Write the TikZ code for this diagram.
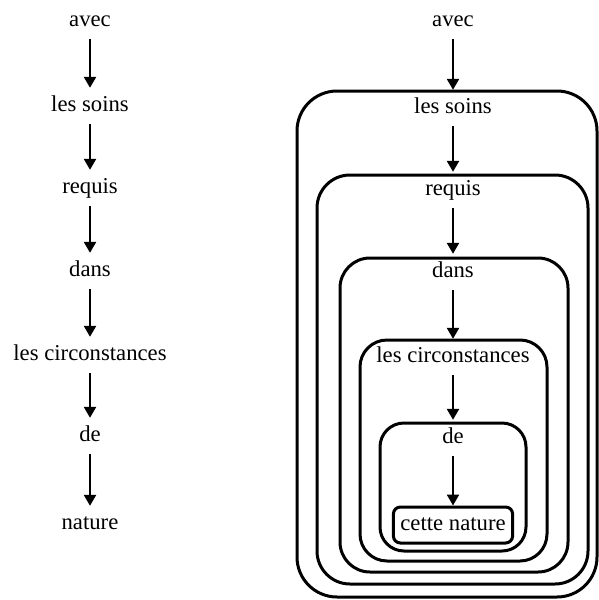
\documentclass[tikz,border=0pt]{standalone}
\usepackage{fontspec}
\setmainfont{Liberation Serif}
\usetikzlibrary{arrows.meta}
\begin{document}
\begin{tikzpicture}[x=1pt,y=-1pt,
  word/.style={inner sep=0pt,text height=23pt,text depth=13pt,anchor=base,font=\fontsize{22.7pt}{27pt}\selectfont},
  arr/.style={-{Triangle[length=11pt,width=12pt]},line width=2.4pt},
  frame/.style={line width=3pt,rounded corners=#1}]
\useasboundingbox (0,0) rectangle (598,600);

% left: the plain chain
\node [word] (la) at (90,26) {avec};
\node [word] (lb) at (90,111) {les soins};
\node [word] (lc) at (90,193) {requis};
\node [word] (ld) at (90,276) {dans};
\node [word] (le) at (90,360) {les circonstances};
\node [word] (lf) at (90,441) {de};
\node [word] (lg) at (90,529) {nature};
\draw [arr] (la.south) -- (lb.north);
\draw [arr] (lb.south) -- (lc.north);
\draw [arr] (lc.south) -- (ld.north);
\draw [arr] (ld.south) -- (le.north);
\draw [arr] (le.south) -- (lf.north);
\draw [arr] (lf.south) -- (lg.north);

% right: the nested chain
\draw [frame=40pt] (297,91) rectangle (597,597);
\draw [frame=33pt] (317,175) rectangle (588,584);
\draw [frame=30pt] (340,258) rectangle (568,572);
\draw [frame=27pt] (360,340) rectangle (547,561);
\draw [frame=24pt] (380,423) rectangle (526,551);
\node [word] (ra) at (453,26) {avec};
\node [word] (rb) at (453,113) {les soins};
\node [word] (rc) at (453,195) {requis};
\node [word] (rd) at (453,277) {dans};
\node [word] (re) at (453,362) {les circonstances};
\node [word] (rf) at (453,443) {de};
\node [word,frame=7pt,draw,inner xsep=7pt] (rg) at (453,530) {cette nature};
\draw [arr] (ra.south) -- (rb.north);
\draw [arr] (rb.south) -- (rc.north);
\draw [arr] (rc.south) -- (rd.north);
\draw [arr] (rd.south) -- (re.north);
\draw [arr] (re.south) -- (rf.north);
\draw [arr] (rf.south) -- (rg.north);

\end{tikzpicture}
\end{document}
